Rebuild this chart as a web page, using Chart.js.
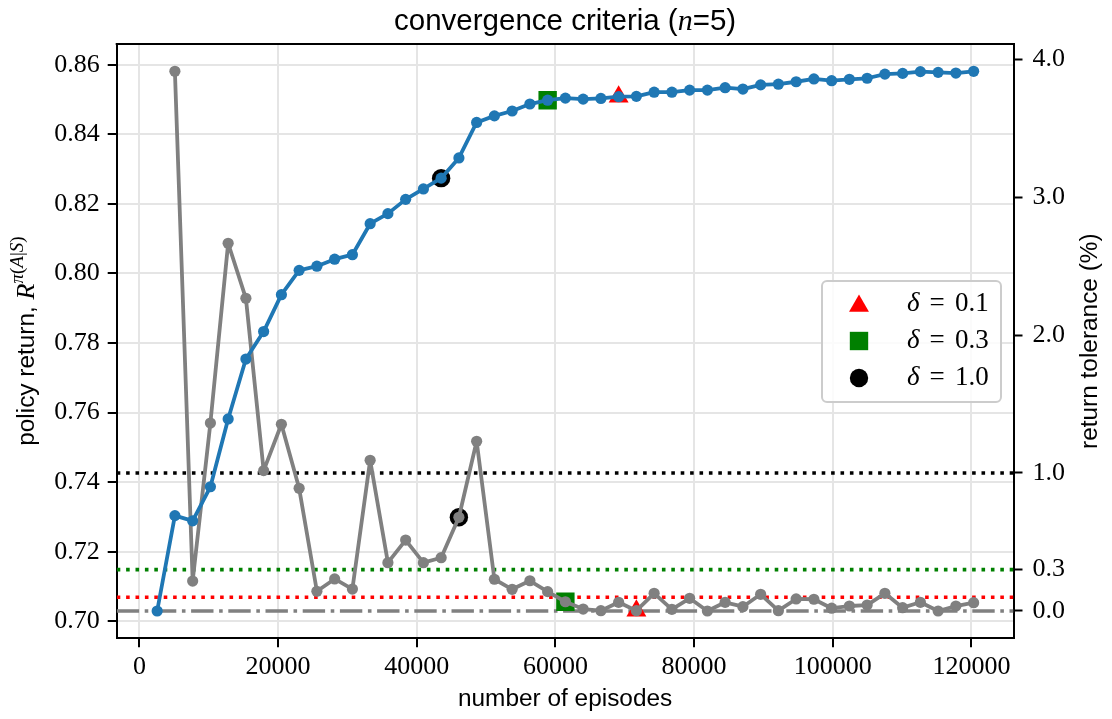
<!DOCTYPE html>
<html>
<head>
<meta charset="utf-8">
<script src="https://cdn.jsdelivr.net/npm/chart.js@4.4.0/dist/chart.umd.min.js"></script>
<style>
  body { margin: 0; background: #fff; }
  #wrap { width: 1112px; height: 719px; }
</style>
</head>
<body>
<div id="wrap"><canvas id="chart" width="1112" height="719"></canvas></div>
<script>
// episodes at which the policy was evaluated
const episodes = [2560, 5120, 7680, 10240, 12800, 15360, 17920, 20480, 23040, 25600,
  28160, 30720, 33280, 35840, 38400, 40960, 43520, 46080, 48640, 51200,
  53760, 56320, 58880, 61440, 64000, 66560, 69120, 71680, 74240, 76800,
  79360, 81920, 84480, 87040, 89600, 92160, 94720, 97280, 99840, 102400,
  104960, 107520, 110080, 112640, 115200, 117760, 120320];

// policy return (left axis)
const policyReturn = [0.7030, 0.7304, 0.7289, 0.7387, 0.7582, 0.7754, 0.7833, 0.7939, 0.8009, 0.8021,
  0.8041, 0.8054, 0.8143, 0.8172, 0.8213, 0.8243, 0.8274, 0.8332, 0.8434, 0.8453,
  0.8467, 0.8487, 0.8498, 0.8504, 0.8501, 0.8503, 0.8508, 0.8509, 0.8521, 0.8521,
  0.8527, 0.8527, 0.8534, 0.8530, 0.8542, 0.8544, 0.8551, 0.8559, 0.8554, 0.8558,
  0.8561, 0.8573, 0.8575, 0.8580, 0.8578, 0.8576, 0.8581];

// return tolerance in % (right axis), none for the first evaluation
const tolerance = [null, 3.911, 0.217, 1.362, 2.665, 2.266, 1.017, 1.353, 0.889, 0.143,
  0.232, 0.159, 1.092, 0.350, 0.514, 0.350, 0.386, 0.679, 1.230, 0.230,
  0.157, 0.219, 0.140, 0.067, 0.014, 0.002, 0.063, 0.002, 0.128, 0.012,
  0.092, 0.000, 0.063, 0.031, 0.121, 0.002, 0.087, 0.085, 0.020, 0.036,
  0.043, 0.128, 0.024, 0.063, 0.000, 0.036, 0.060];

// convergence criteria
const deltas = [0.1, 0.3, 1.0];
const deltaLabels = ['0.1', '0.3', '1.0'];
const convergedIdx = [26, 22, 16];
const deltaColors = ['#ff0000', '#008000', '#000000'];
const deltaMarkers = ['triangle', 'rect', 'circle'];
const deltaRadius = [11.5, 13, 9.2];

const xTicks = [0, 20000, 40000, 60000, 80000, 100000, 120000];
const returnTicks = [0.70, 0.72, 0.74, 0.76, 0.78, 0.80, 0.82, 0.84, 0.86];
const toleranceTicks = [0.0, 0.3, 1.0, 2.0, 3.0, 4.0];

const xLimits = [-3274, 126070];
const returnLimits = [0.69515, 0.86595];
const toleranceLimits = [-0.198, 4.109];

const BLUE = '#1f77b4';
const GRAY = '#808080';
const SERIF = '"Liberation Serif", "DejaVu Serif", serif';
const SANS = '"Liberation Sans", Arial, sans-serif';

const datasets = [];
datasets.push({
  label: 'return',
  data: episodes.map((e, i) => ({ x: e, y: policyReturn[i] })),
  yAxisID: 'y',
  borderColor: BLUE, backgroundColor: BLUE,
  borderWidth: 3.8, borderJoinStyle: 'round', borderCapStyle: 'round',
  pointRadius: 5.6, pointBorderWidth: 0
});
datasets.push({
  label: 'tolerance',
  data: episodes.map((e, i) => ({ x: e, y: tolerance[i] })).filter(p => p.y !== null),
  yAxisID: 'y2',
  borderColor: GRAY, backgroundColor: GRAY,
  borderWidth: 3.8, borderJoinStyle: 'round', borderCapStyle: 'round',
  pointRadius: 5.6, pointBorderWidth: 0
});
deltas.forEach((d, k) => {
  const idx = convergedIdx[k];
  const common = {
    showLine: false, pointStyle: deltaMarkers[k], pointRadius: deltaRadius[k],
    pointBorderWidth: 0, backgroundColor: deltaColors[k], borderColor: deltaColors[k]
  };
  datasets.push(Object.assign({ label: 'm' + k, yAxisID: 'y',
    data: [{ x: episodes[idx], y: policyReturn[idx] }] }, common));
  datasets.push(Object.assign({ label: 'n' + k, yAxisID: 'y2',
    data: [{ x: episodes[idx + 1], y: tolerance[idx + 1] }] }, common));
});
deltas.forEach((d, k) => {
  datasets.push({
    label: 'delta ' + d, yAxisID: 'y2',
    data: [{ x: xLimits[0], y: d }, { x: xLimits[1], y: d }],
    borderColor: deltaColors[k], borderWidth: 3.6, borderDash: [3.6, 5.8],
    pointRadius: 0
  });
});
datasets.push({
  label: 'zero', yAxisID: 'y2',
  data: [{ x: xLimits[0], y: 0 }, { x: xLimits[1], y: 0 }],
  borderColor: GRAY, borderWidth: 3.6, borderDash: [22.4, 5.6, 3.6, 5.6],
  pointRadius: 0
});

function setTicks(values) {
  return scale => { scale.ticks = values.map(v => ({ value: v })); };
}

function drawRuns(ctx, runs, x, y, align) {
  let total = 0;
  runs.forEach(r => { ctx.font = r.font; r.w = ctx.measureText(r.text).width; total += r.w; });
  let cx = align === 'center' ? x - total / 2 : x;
  runs.forEach(r => {
    ctx.font = r.font;
    ctx.fillText(r.text, cx, y + (r.dy || 0));
    cx += r.w;
  });
}

function marker(ctx, style, r, x, y) {
  ctx.beginPath();
  if (style === 'triangle') {
    const a = Math.PI * 2 / 3;
    ctx.moveTo(x, y - r);
    ctx.lineTo(x + Math.sin(a) * r, y - Math.cos(a) * r);
    ctx.lineTo(x - Math.sin(a) * r, y - Math.cos(a) * r);
    ctx.closePath();
  } else if (style === 'rect') {
    const s = r * Math.SQRT1_2;
    ctx.rect(x - s, y - s, 2 * s, 2 * s);
  } else {
    ctx.arc(x, y, r, 0, Math.PI * 2);
  }
  ctx.fill();
}

const annotate = {
  id: 'annotate',
  afterDraw(chart) {
    const ctx = chart.ctx;
    const a = chart.chartArea;
    const midX = (a.left + a.right) / 2;
    const midY = (a.top + a.bottom) / 2;
    ctx.save();
    // top spine
    ctx.strokeStyle = '#000';
    ctx.lineWidth = 2;
    ctx.beginPath();
    ctx.moveTo(a.left - 1, a.top);
    ctx.lineTo(a.right + 1, a.top);
    ctx.stroke();

    ctx.fillStyle = '#000';
    ctx.textBaseline = 'alphabetic';
    // title
    drawRuns(ctx, [
      { text: 'convergence criteria (', font: '29.5px ' + SANS },
      { text: 'n', font: 'italic 30px ' + SERIF },
      { text: '=5)', font: '29.5px ' + SANS }
    ], midX, 30, 'center');
    // x label
    drawRuns(ctx, [{ text: 'number of episodes', font: '24.4px ' + SANS }], midX, 706, 'center');
    // left y label
    ctx.save();
    ctx.translate(34, midY);
    ctx.rotate(-Math.PI / 2);
    drawRuns(ctx, [
      { text: 'policy return, ', font: '24.4px ' + SANS },
      { text: 'R', font: 'italic 26px ' + SERIF },
      { text: '\u03c0', font: 'italic 19px ' + SERIF, dy: -11 },
      { text: '(', font: '19px ' + SERIF, dy: -11 },
      { text: 'A', font: 'italic 19px ' + SERIF, dy: -11 },
      { text: '|', font: '19px ' + SERIF, dy: -11 },
      { text: 'S', font: 'italic 19px ' + SERIF, dy: -11 },
      { text: ')', font: '19px ' + SERIF, dy: -11 }
    ], 0, 0, 'center');
    ctx.restore();
    // right y label
    ctx.save();
    ctx.translate(1097, midY);
    ctx.rotate(-Math.PI / 2);
    drawRuns(ctx, [{ text: 'return tolerance (%)', font: '24.4px ' + SANS }], 0, 0, 'center');
    ctx.restore();

    // legend
    const lx = 822, ly = 281, lw = 179, lh = 121, rad = 5;
    ctx.fillStyle = 'rgba(255,255,255,0.85)';
    ctx.strokeStyle = '#cccccc';
    ctx.lineWidth = 2;
    ctx.beginPath();
    ctx.moveTo(lx + rad, ly);
    ctx.arcTo(lx + lw, ly, lx + lw, ly + lh, rad);
    ctx.arcTo(lx + lw, ly + lh, lx, ly + lh, rad);
    ctx.arcTo(lx, ly + lh, lx, ly, rad);
    ctx.arcTo(lx, ly, lx + lw, ly, rad);
    ctx.closePath();
    ctx.fill();
    ctx.stroke();
    deltas.forEach((d, k) => {
      const cy = 304 + k * 37;
      ctx.fillStyle = deltaColors[k];
      marker(ctx, deltaMarkers[k], deltaRadius[k], 859, k === 0 ? cy + 2 : cy);
      ctx.fillStyle = '#000';
      ctx.textBaseline = 'middle';
      ctx.textAlign = 'left';
      ctx.font = 'italic 27px ' + SERIF;
      ctx.fillText('\u03b4', 907, cy);
      ctx.textAlign = 'center';
      ctx.font = '27px ' + SERIF;
      ctx.fillText('=', 937, cy);
      ctx.textAlign = 'left';
      ctx.fillText(deltaLabels[k], 955, cy);
    });
    ctx.restore();
  }
};

const tickFont = { family: SERIF, size: 26 };
const gridColor = '#e5e5e5';

new Chart(document.getElementById('chart').getContext('2d'), {
  type: 'line',
  data: { datasets: datasets },
  plugins: [annotate],
  options: {
    responsive: false,
    animation: false,
    events: [],
    layout: { padding: { top: 44, left: 0, right: 0, bottom: 0 } },
    plugins: { legend: { display: false }, tooltip: { enabled: false }, title: { display: false } },
    scales: {
      x: {
        type: 'linear', position: 'bottom',
        min: xLimits[0], max: xLimits[1],
        afterBuildTicks: setTicks(xTicks),
        afterFit: s => { s.height = 80.7; },
        ticks: { font: tickFont, color: '#000', padding: 4, maxRotation: 0, callback: v => String(v) },
        grid: { color: gridColor, lineWidth: 2, tickColor: '#000', tickLength: 9, tickWidth: 2 },
        border: { display: true, color: '#000', width: 2 }
      },
      y: {
        type: 'linear', position: 'left',
        min: returnLimits[0], max: returnLimits[1],
        afterBuildTicks: setTicks(returnTicks),
        afterFit: s => { s.width = 116.7; },
        ticks: { font: tickFont, color: '#000', padding: 8, callback: v => v.toFixed(2) },
        grid: { color: gridColor, lineWidth: 2, tickColor: '#000', tickLength: 9, tickWidth: 2 },
        border: { display: true, color: '#000', width: 2 }
      },
      y2: {
        type: 'linear', position: 'right',
        min: toleranceLimits[0], max: toleranceLimits[1],
        afterBuildTicks: setTicks(toleranceTicks),
        afterFit: s => { s.width = 98.5; },
        ticks: { font: tickFont, color: '#000', padding: 10, callback: v => v.toFixed(1) },
        grid: { drawOnChartArea: false, tickColor: '#000', tickLength: 9, tickWidth: 2 },
        border: { display: true, color: '#000', width: 2 }
      }
    }
  }
});
</script>
</body>
</html>
